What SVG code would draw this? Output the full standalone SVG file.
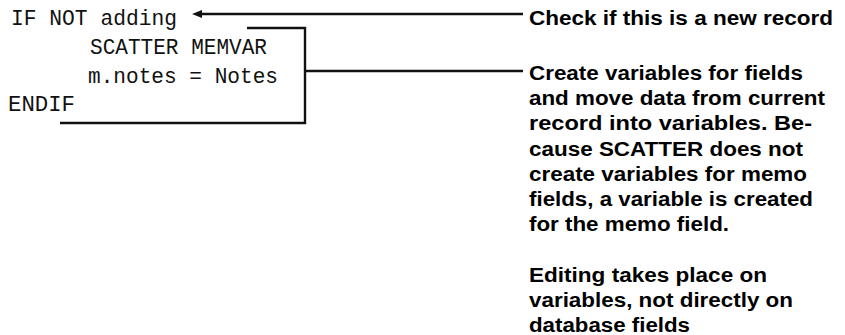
<svg xmlns="http://www.w3.org/2000/svg" width="845" height="335" viewBox="0 0 845 335">
  <style>
    .code { font-family: "Liberation Mono", "Courier New", monospace; font-size: 21.5px; fill: #111; }
    .note { font-family: "Liberation Sans", Arial, sans-serif; font-size: 20px; font-weight: bold; fill: #000; }
    .wire { fill: none; stroke: #111; stroke-width: 2.4; }
  </style>
  <defs>
    <marker id="arrow" viewBox="0 0 10 8" refX="1" refY="4" markerWidth="10" markerHeight="8" orient="auto" markerUnits="userSpaceOnUse">
      <path d="M10,4 L0,0 L0,8 Z" fill="#111"/>
    </marker>
  </defs>

  <!-- code listing -->
  <g id="code">
    <text class="code" x="11" y="25" textLength="166" lengthAdjust="spacingAndGlyphs">IF NOT adding</text>
    <text class="code" x="90" y="54" textLength="177" lengthAdjust="spacingAndGlyphs">SCATTER MEMVAR</text>
    <text class="code" x="88" y="83" textLength="190" lengthAdjust="spacingAndGlyphs">m.notes = Notes</text>
    <text class="code" x="8" y="111" textLength="67" lengthAdjust="spacingAndGlyphs">ENDIF</text>
  </g>

  <!-- connectors -->
  <g id="connectors">
    <path class="wire" d="M523,14 H201" marker-end="url(#arrow)"/>
    <path class="wire" d="M247,28 H305 V123 H60"/>
    <path class="wire" d="M305,71 H523"/>
  </g>

  <!-- annotation: new record check -->
  <g id="note-check">
    <text class="note" x="529" y="25" textLength="304" lengthAdjust="spacingAndGlyphs">Check if this is a new record</text>
  </g>

  <!-- annotation: scatter block -->
  <g id="note-scatter">
    <text class="note" x="529" y="80" textLength="274" lengthAdjust="spacingAndGlyphs">Create variables for fields</text>
    <text class="note" x="529" y="105.2" textLength="296" lengthAdjust="spacingAndGlyphs">and move data from current</text>
    <text class="note" x="529" y="130.4" textLength="283" lengthAdjust="spacingAndGlyphs">record into variables. Be-</text>
    <text class="note" x="529" y="155.6" textLength="274" lengthAdjust="spacingAndGlyphs">cause SCATTER does not</text>
    <text class="note" x="529" y="180.8" textLength="278" lengthAdjust="spacingAndGlyphs">create variables for memo</text>
    <text class="note" x="529" y="206" textLength="284" lengthAdjust="spacingAndGlyphs">fields, a variable is created</text>
    <text class="note" x="529" y="231.2" textLength="200" lengthAdjust="spacingAndGlyphs">for the memo field.</text>
  </g>

  <!-- annotation: editing -->
  <g id="note-editing">
    <text class="note" x="529" y="281.6" textLength="238" lengthAdjust="spacingAndGlyphs">Editing takes place on</text>
    <text class="note" x="529" y="306.8" textLength="264" lengthAdjust="spacingAndGlyphs">variables, not directly on</text>
    <text class="note" x="529" y="332" textLength="161" lengthAdjust="spacingAndGlyphs">database fields</text>
  </g>
</svg>
